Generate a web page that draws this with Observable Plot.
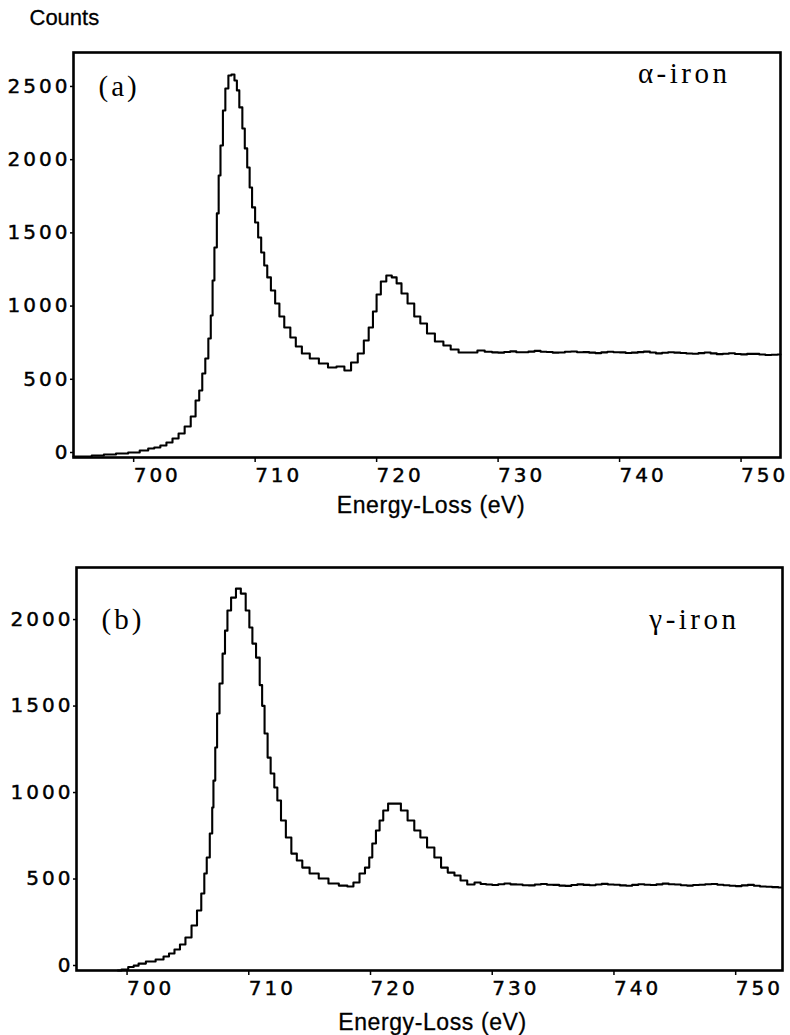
<!DOCTYPE html>
<html><head><meta charset="utf-8">
<script src="https://cdn.jsdelivr.net/npm/d3@7"></script>
<script src="https://cdn.jsdelivr.net/npm/@observablehq/plot@0.6"></script>
<style>
body{margin:0;background:#fff;}
#chart{width:790px;background:#fff;}
#chart svg{display:block;}
#chart svg g[aria-label$="tick label"] text{font-family:"DejaVu Sans",sans-serif;font-size:20px;letter-spacing:3px;fill:#000;stroke:#000;stroke-width:0.45px;}
</style></head><body><div id="chart"></div>
<script>
// ---- data ----
const alphaEnergy = [694.8,695.8,696.8,697.8,698.8,699.8,700.7,701.2,701.7,702.2,702.7,703.2,703.7,704.2,704.7,705.0,705.3,705.5,705.8,706.0,706.2,706.3,706.5,706.7,706.8,707.0,707.2,707.4,707.7,707.9,708.2,708.3,708.6,708.8,709.0,709.2,709.4,709.6,709.9,710.1,710.4,710.6,710.9,711.2,711.6,711.9,712.4,712.9,713.3,713.9,714.6,715.4,716.1,716.8,717.4,717.9,718.5,718.9,719.3,719.6,719.9,720.3,720.8,721.2,721.6,722.0,722.6,723.1,723.6,724.2,724.9,725.6,726.1,726.9,727.8,728.3,
  729,729.5,730,730.5,731,731.5,732,732.5,733,733.5,734,734.5,735,735.5,736,736.5,737,737.5,738,738.5,739,739.5,740,740.5,741,741.5,742,742.5,743,743.5,744,744.5,745,745.5,746,746.5,747,747.5,748,748.5,749,749.5,750,750.5,751,751.5,752,752.5,753];
const alphaCounts = [7,7,14,20,27,34,48,61,68,82,102,130,164,212,280,389,458,574,676,813,970,1209,1434,1667,1926,2131,2370,2520,2609,2616,2575,2507,2391,2247,2111,1981,1844,1708,1605,1503,1400,1311,1230,1141,1052,963,888,820,758,710,676,642,615,622,594,649,710,799,888,997,1113,1202,1243,1230,1189,1120,1052,963,915,847,792,765,738,717,717,731,
  722,718,716,721,725,719,719,723,728,722,721,716,717,722,724,719,720,716,713,718,722,719,718,714,716,720,723,717,711,715,719,716,714,710,709,713,717,711,706,709,712,707,704,708,708,703,700,702,703];

const gammaEnergy = [699.0,699.6,700.1,700.5,700.9,701.7,702.5,703.0,703.4,703.9,704.3,704.8,705.3,705.7,706.0,706.2,706.4,706.7,706.8,706.9,707.1,707.2,707.5,707.7,707.9,708.1,708.5,708.9,709.3,709.7,709.9,710.2,710.5,710.8,710.9,711.2,711.4,711.7,712.0,712.2,712.6,713.0,713.5,713.9,714.4,715.1,715.9,716.7,717.6,718.1,718.6,719.1,719.5,719.8,720.0,720.4,720.6,721.0,721.4,722.0,722.5,723.1,723.6,724.1,724.7,725.3,725.8,726.4,726.9,727.4,728.0,728.6,
  729,729.5,730,730.5,731,731.5,732,732.5,733,733.5,734,734.5,735,735.5,736,736.5,737,737.5,738,738.5,739,739.5,740,740.5,741,741.5,742,742.5,743,743.5,744,744.5,745,745.5,746,746.5,747,747.5,748,748.5,749,749.5,750,750.5,751,751.5,752,752.5,753,753.5];
const gammaCounts = [0,6,20,28,40,52,64,81,98,121,150,191,260,347,445,561,653,792,942,1098,1289,1486,1659,1832,1965,2081,2156,2208,2179,2081,1983,1890,1809,1650,1530,1370,1231,1139,1058,983,867,769,676,636,595,561,532,503,491,486,509,561,595,653,734,809,867,925,965,965,925,867,809,769,711,653,595,566,549,520,497,509,
  500,497,494,499,503,498,497,493,492,497,500,496,495,491,489,494,498,495,493,497,501,497,496,492,490,495,499,496,494,498,502,499,497,493,491,494,496,499,500,496,493,490,488,492,495,490,486,484,482,480];

const xTicks = [700, 710, 720, 730, 740, 750];
const yTicksA = [0, 500, 1000, 1500, 2000, 2500];
const yTicksB = [0, 500, 1000, 1500, 2000];
const panelLabels = ["(a)", "(b)"];
const materialLabels = ["α-iron", "γ-iron"];
const yLabel = "Counts";
const xLabel = "Energy-Loss (eV)";

function panel(cfg) {
  const data = cfg.energy.map((e, i) => ({energy: e, counts: cfg.counts[i]}));
  const marks = [
    Plot.axisX(xTicks, {tickSize: 5, tickPadding: 5, textAnchor: "start", dx: -3, label: null, strokeWidth: 1.5, tickFormat: d => `${d}`}),
    Plot.axisY(cfg.yTicks, {tickSize: 3, tickPadding: 0, dy: -5, label: null, strokeWidth: 1.5, tickFormat: d => `${d}`}),
    Plot.frame({stroke: "#000", strokeWidth: 2.6}),
    Plot.line(data, {x: "energy", y: "counts", curve: "step", stroke: "#000", strokeWidth: 2.1}),
    Plot.text([cfg.panel], {frameAnchor: "top-left", textAnchor: "start", lineAnchor: "middle", dx: 25, dy: cfg.panelDy,
      fontFamily: "Liberation Serif", fontSize: 29, fill: "#000"}),
    Plot.text([cfg.material], {frameAnchor: "top-right", textAnchor: "end", lineAnchor: "middle", dx: cfg.matDx, dy: cfg.matDy,
      fontFamily: "Liberation Serif", fontSize: 29, fill: "#000"}),
    Plot.text([xLabel], {frameAnchor: "bottom", lineAnchor: "middle", dx: cfg.xlDx, dy: cfg.xlDy,
      fontFamily: "Liberation Sans", fontSize: 23, fill: "#000", stroke: "#000", strokeWidth: 0.3})
  ];
  if (cfg.counts_label) marks.push(Plot.text([yLabel], {frameAnchor: "top-left", textAnchor: "start", lineAnchor: "middle", dx: -44, dy: -35,
      fontFamily: "Liberation Sans", fontSize: 22, fill: "#000", stroke: "#000", strokeWidth: 0.3}));
  const svg = Plot.plot({
    width: 790, height: cfg.height,
    marginTop: cfg.mt, marginRight: cfg.mr, marginBottom: cfg.mb, marginLeft: cfg.ml,
    x: {domain: cfg.xDomain},
    y: {domain: cfg.yDomain},
    style: {background: "#fff", color: "#000", overflow: "visible"},
    marks
  });
  // letter spacing for the annotation texts (as in the scanned original)
  svg.querySelectorAll("text").forEach(t => {
    const s = t.textContent;
    if (s === cfg.panel) t.style.letterSpacing = "3px";
    else if (s === cfg.material) t.style.letterSpacing = "3.5px";
    else if (s === xLabel) t.style.letterSpacing = "0.6px";
  });
  return svg;
}

const chart = document.getElementById("chart");
chart.appendChild(panel({
  energy: alphaEnergy, counts: alphaCounts, yTicks: yTicksA,
  panel: panelLabels[0], material: materialLabels[0], counts_label: true,
  height: 530, mt: 52, mr: 10, mb: 73, ml: 73,
  xDomain: [694.8, 753.0], yDomain: [0, 2766],
  panelDy: 34, matDx: -50, matDy: 21, xlDx: 4, xlDy: 48
}));
chart.appendChild(panel({
  energy: gammaEnergy, counts: gammaCounts, yTicks: yTicksB,
  panel: panelLabels[1], material: materialLabels[1], counts_label: false,
  height: 505, mt: 37, mr: 8, mb: 65, ml: 76,
  xDomain: [695.6, 753.6], yDomain: [0, 2330],
  panelDy: 52, matDx: -43, matDy: 52, xlDx: 3, xlDy: 52
}));
</script></body></html>
